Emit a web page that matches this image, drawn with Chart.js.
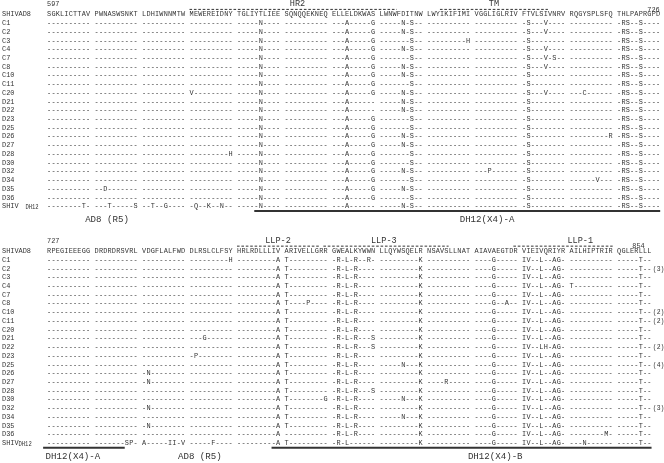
<!DOCTYPE html>
<html>
<head>
<meta charset="utf-8">
<script src="https://cdn.jsdelivr.net/npm/chart.js@4/dist/chart.umd.min.js"></script>
<style>
html, body { margin: 0; padding: 0; background: #fff; }
#wrap { width: 664px; height: 463px; }
</style>
</head>
<body>
<div id="wrap"><canvas id="myChart" width="664" height="463"></canvas></div>
<script>
// clone names, same order in both blocks
var cloneNames = ['C1', 'C2', 'C3', 'C4', 'C7', 'C8', 'C10', 'C11', 'C20', 'D21', 'D22',
  'D23', 'D25', 'D26', 'D27', 'D28', 'D30', 'D32', 'D34', 'D35', 'D36'];
var cloneCounts = ['', '(3)', '', '', '', '', '(2)', '(2)', '', '', '(2)',
  '', '(4)', '', '', '', '', '(3)', '', '', ''];

var firstResidue = [597, 727];
var lastResidue = [726, 854];

// reference SHIVAD8
var refTop = 'SGKLICTTAV PWNASWSNKT LDHIWNNMTW MEWEREIDNY TGLIYTLIEE SQNQQEKNEQ ELLELDKWAS LWNWFDITNW LWYIKIFIMI VGGLIGLRIV FTVLSIVNRV RQGYSPLSFQ THLPAPRGPD';
var refBottom = 'RPEGIEEEGG DRDRDRSVRL VDGFLALFWD DLRSLCLFSY HRLRDLLLIV ARIVELLGRR GWEALKYWWN LLQYWSQELR NSAVSLLNAT AIAVAEGTDR VIEIVQRIYR AILHIPTRIR QGLERLLL';

var clonesTop = [
  '---------- ---------- ---------- ---------- -----N---- ---------- ---A-----G -----N-S-- ---------- ---------- -S---V---- ---------- -RS--S----', // C1
  '---------- ---------- ---------- ---------- -----N---- ---------- ---A-----G -----N-S-- ---------- ---------- -S---V---- ---------- -RS--S----', // C2
  '---------- ---------- ---------- ---------- -----N---- ---------- ---A-----G -------S-- ---------H ---------- -S-------- ---------- -RS--S----', // C3
  '---------- ---------- ---------- ---------- -----N---- ---------- ---A-----G -----N-S-- ---------- ---------- -S---V---- ---------- -RS--S----', // C4
  '---------- ---------- ---------- ---------- -----N---- ---------- ---A-----G -------S-- ---------- ---------- -S---V-S-- ---------- -RS--S----', // C7
  '---------- ---------- ---------- ---------- -----N---- ---------- ---A-----G -----N-S-- ---------- ---------- -S---V---- ---------- -RS--S----', // C8
  '---------- ---------- ---------- ---------- -----N---- ---------- ---A-----G -----N-S-- ---------- ---------- -S-------- ---------- -RS--S----', // C10
  '---------- ---------- ---------- ---------- -----N---- ---------- ---A-----G -------S-- ---------- ---------- -S-------- ---------- -RS--S----', // C11
  '---------- ---------- ---------- V--------- -----N---- ---------- ---A-----G -----N-S-- ---------- ---------- -S---V---- ---C------ -RS--S----', // C20
  '---------- ---------- ---------- ---------- -----N---- ---------- ---A------ -----N-S-- ---------- ---------- -S-------- ---------- -RS--S----', // D21
  '---------- ---------- ---------- ---------- -----N---- ---------- ---A------ -----N-S-- ---------- ---------- -S-------- ---------- -RS--S----', // D22
  '---------- ---------- ---------- ---------- -----N---- ---------- ---A-----G -------S-- ---------- ---------- -S-------- ---------- -RS--S----', // D23
  '---------- ---------- ---------- ---------- -----N---- ---------- ---A-----G -------S-- ---------- ---------- -S-------- ---------- -RS--S----', // D25
  '---------- ---------- ---------- ---------- -----N---- ---------- ---A-----G -----N-S-- ---------- ---------- -S-------- ---------R -RS--S----', // D26
  '---------- ---------- ---------- ---------- -----N---- ---------- ---A-----G -----N-S-- ---------- ---------- -S-------- ---------- -RS--S----', // D27
  '---------- ---------- ---------- ---------H -----N---- ---------- ---A-----G -------S-- ---------- ---------- -S-------- ---------- -RS--S----', // D28
  '---------- ---------- ---------- ---------- -----N---- ---------- ---A-----G -------S-- ---------- ---------- -S-------- ---------- -RS--S----', // D30
  '---------- ---------- ---------- ---------- -----N---- ---------- ---A-----G -----N-S-- ---------- ---P------ -S-------- ---------- -RS--S----', // D32
  '---------- ---------- ---------- ---------- -----N---- ---------- ---A-----G -------S-- ---------- ---------- -S-------- ------V--- -RS--S----', // D34
  '---------- --D------- ---------- ---------- -----N---- ---------- ---A-----G -----N-S-- ---------- ---------- -S-------- ---------- -RS--S----', // D35
  '---------- ---------- ---------- ---------- -----N---- ---------- ---A-----G -------S-- ---------- ---------- -S-------- ---------- -RS--S----'  // D36
];
var dh12Top = '--------T- ---T-----S --T--G---- -Q--K--N-- -----N---- ---------- ---A------ -----N-S-- ---------- ---------- -S-------- ---------- -RS--S----';

var clonesBottom = [
  '---------- ---------- ---------- ---------H ---------A T--------- -R-L-R--R- ---------K ---------- ----G----- IV--L--AG- ---------- -----T--', // C1
  '---------- ---------- ---------- ---------- ---------A T--------- -R-L-R---- ---------K ---------- ----G----- IV--L--AG- ---------- -----T--', // C2
  '---------- ---------- ---------- ---------- ---------A T--------- -R-L-R---- ---------K ---------- ----G----- IV--L--AG- ---------- -----T--', // C3
  '---------- ---------- ---------- ---------- ---------A T--------- -R-L-R---- ---------K ---------- ----G----- IV--L--AG- T--------- -----T--', // C4
  '---------- ---------- ---------- ---------- ---------A T--------- -R-L-R---- ---------K ---------- ----G----- IV--L--AG- ---------- -----T--', // C7
  '---------- ---------- ---------- ---------- ---------A T----P---- -R-L-R---- ---------K ---------- ----G--A-- IV--L--AG- ---------- -----T--', // C8
  '---------- ---------- ---------- ---------- ---------A T--------- -R-L-R---- ---------K ---------- ----G----- IV--L--AG- ---------- -----T--', // C10
  '---------- ---------- ---------- ---------- ---------A T--------- -R-L-R---- ---------K ---------- ----G----- IV--L--AG- ---------- -----T--', // C11
  '---------- ---------- ---------- ---------- ---------A T--------- -R-L-R---- ---------K ---------- ----G----- IV--L--AG- ---------- -----T--', // C20
  '---------- ---------- ---------- ---G------ ---------A T--------- -R-L-R---S ---------K ---------- ----G----- IV--L--AG- ---------- -----T--', // D21
  '---------- ---------- ---------- ---------- ---------A T--------- -R-L-R---S ---------K ---------- ----G----- IV--LH-AG- ---------- -----T--', // D22
  '---------- ---------- ---------- -P-------- ---------A T--------- -R-L-R---- ---------K ---------- ----G----- IV--L--AG- ---------- -----T--', // D23
  '---------- ---------- ---------- ---------- ---------A T--------- -R-L-R---- -----N---K ---------- ----G----- IV--L--AG- ---------- -----T--', // D25
  '---------- ---------- -N-------- ---------- ---------A T--------- -R-L-R---- ---------K ---------- ----G----- IV--L--AG- ---------- -----T--', // D26
  '---------- ---------- -N-------- ---------- ---------A T--------- -R-L-R---- ---------K ----R----- ----G----- IV--L--AG- ---------- -----T--', // D27
  '---------- ---------- ---------- ---------- ---------A T--------- -R-L-R---S ---------K ---------- ----G----- IV--L--AG- ---------- -----T--', // D28
  '---------- ---------- ---------- ---------- ---------A T--------G -R-L-R---- -----N---K ---------- ----G----- IV--L--AG- ---------- -----T--', // D30
  '---------- ---------- -N-------- ---------- ---------A T--------- -R-L-R---- ---------K ---------- ----G----- IV--L--AG- ---------- -----T--', // D32
  '---------- ---------- ---------- ---------- ---------A T--------- -R-L-R---- -----N---K ---------- ----G----- IV--L--AG- ---------- -----T--', // D34
  '---------- ---------- -N-------- ---------- ---------A T--------- -R-L-R---- ---------K ---------- ----G----- IV--L--AG- ---------- -----T--', // D35
  '---------- ---------- ---------- ---------- ---------A ---------- -R-L-R---- ---------K ---------- ----G----- IV--L--AG- --------M- -----T--'  // D36
];
var dh12Bottom = '---------- -------SP- A-----II-V -----F---- ---------A T--------- -R-L------ ---------K ---------- ----G----- IV--L--AG- ---N------ -----T--';

// domains (dashed overlines) and tropism regions (underlines), residue numbers
var domains = [
  { label: 'HR2', block: 0, from: 627, to: 670, shift: 1 },
  { label: 'TM', block: 0, from: 680, to: 702, shift: 0 },
  { label: 'LLP-2', block: 1, from: 767, to: 784, shift: 0 },
  { label: 'LLP-3', block: 1, from: 786, to: 811, shift: -0.5 },
  { label: 'LLP-1', block: 1, from: 826, to: 846, shift: 4 }
];
var regions = [
  { label: 'AD8 (R5)', block: 0, from: null, to: null, at: 13.9 },
  { label: 'DH12(X4)-A', block: 0, from: 641, to: 726, at: 101.9 },
  { label: 'DH12(X4)-A', block: 1, from: 727, to: 743, at: 6.0 },
  { label: 'AD8 (R5)', block: 1, from: null, to: null, at: 35.4 },
  { label: 'DH12(X4)-B', block: 1, from: 775, to: 854, at: 103.8 }
];

// layout: columns of 4.318 px starting at x=47, rows of 8.72 px
var COL = 47.5 / 11;
var X0 = 47;
var ROW = 8.72;
var Y0 = 23;
var blockOffset = [0, 27.15];
var INK = '#333';
// vertical slots above each block, in rows relative to first clone
var slotNumber = -2.18, slotDomainLabel = -2.24, slotDash = -1.56, slotHeader = -0.99;

function colOf(block, residue) {
  var i = residue - firstResidue[block];
  return i + Math.floor(i / 10);
}

var lineSets = [];
domains.forEach(function (d) {
  var yv = blockOffset[d.block] + slotDash;
  lineSets.push({
    data: [{ x: colOf(d.block, d.from), y: yv }, { x: colOf(d.block, d.to) + 1, y: yv }],
    borderColor: INK, borderWidth: 1, borderDash: [2.6, 1.8]
  });
});
regions.forEach(function (r) {
  if (r.from === null) return;
  var yv = blockOffset[r.block] + 21.55;
  var x1 = colOf(r.block, r.from);
  if (r.from === firstResidue[r.block]) x1 -= 0.9;
  lineSets.push({
    data: [{ x: x1, y: yv }, { x: colOf(r.block, r.to) + 1, y: yv }],
    borderColor: INK, borderWidth: 2, borderDash: []
  });
});
lineSets.forEach(function (s) {
  s.showLine = true;
  s.pointRadius = 0;
  s.fill = false;
});

var seqFont = '8px "Liberation Mono", monospace';
var squeeze = 0.86;

var alignmentText = {
  id: 'alignmentText',
  afterDatasetsDraw: function (chart) {
    var ctx = chart.ctx;
    var xs = chart.scales.x;
    var ys = chart.scales.y;
    ctx.save();
    ctx.fillStyle = INK;
    ctx.textBaseline = 'middle';

    function seq(str, row) {
      ctx.font = seqFont;
      ctx.textAlign = 'center';
      var py = ys.getPixelForValue(row);
      for (var k = 0; k < str.length; k++) {
        if (str[k] === ' ') continue;
        ctx.save();
        ctx.translate(xs.getPixelForValue(k + 0.5), py);
        ctx.scale(squeeze, 1);
        ctx.fillText(str[k], 0, 0);
        ctx.restore();
      }
    }
    function label(txt, col, row, font, align, sq) {
      ctx.font = font;
      ctx.textAlign = align;
      ctx.save();
      ctx.translate(xs.getPixelForValue(col), ys.getPixelForValue(row));
      ctx.scale(sq, 1);
      ctx.fillText(txt, 0, 0);
      ctx.restore();
    }

    var blocks = [[refTop, clonesTop, dh12Top], [refBottom, clonesBottom, dh12Bottom]];
    blocks.forEach(function (b, bi) {
      var off = blockOffset[bi];
      var nCols = b[0].length;
      // residue numbers
      label(String(firstResidue[bi]), 0, off + slotNumber, seqFont, 'left', squeeze);
      label(String(lastResidue[bi]), nCols - (bi === 0 ? 0.1 : 1.6), off + slotDash, seqFont, 'right', squeeze);
      // reference row
      label('SHIVAD8', -10.4, off + slotHeader, seqFont, 'left', squeeze);
      seq(b[0], off + slotHeader);
      // clones
      b[1].forEach(function (s, i) {
        label(cloneNames[i], -10.4, off + i, seqFont, 'left', squeeze);
        seq(s, off + i);
        if (bi === 1 && cloneCounts[i]) {
          label(cloneCounts[i], 140.3, off + i, seqFont, 'left', 0.8);
        }
      });
      // SHIV DH12
      var dy = off + cloneNames.length;
      label('SHIV', -10.4, dy, seqFont, 'left', squeeze);
      label('DH12', bi === 0 ? -5.0 : -6.6, dy + 0.18, '6.4px "Liberation Mono", monospace', 'left', squeeze);
      seq(b[2], dy);
    });

    domains.forEach(function (d) {
      var mid = (colOf(d.block, d.from) + colOf(d.block, d.to) + 1) / 2 + d.shift;
      label(d.label, mid, blockOffset[d.block] + slotDomainLabel,
        '9px "Liberation Mono", monospace', 'center', 0.95);
    });
    regions.forEach(function (r) {
      label(r.label, r.at, blockOffset[r.block] + 22.55,
        '9.6px "Liberation Mono", monospace', 'center', 0.95);
    });
    ctx.restore();
  }
};

var ctx = document.getElementById('myChart').getContext('2d');
var chart = new Chart(ctx, {
  type: 'scatter',
  data: { datasets: lineSets },
  options: {
    responsive: false,
    animation: false,
    events: [],
    layout: { padding: 0 },
    plugins: { legend: { display: false }, tooltip: { enabled: false } },
    scales: {
      x: { type: 'linear', display: false, min: -X0 / COL, max: (664 - X0) / COL },
      y: { type: 'linear', display: false, reverse: true, min: -Y0 / ROW, max: (463 - Y0) / ROW }
    }
  },
  plugins: [alignmentText]
});
</script>
</body>
</html>
